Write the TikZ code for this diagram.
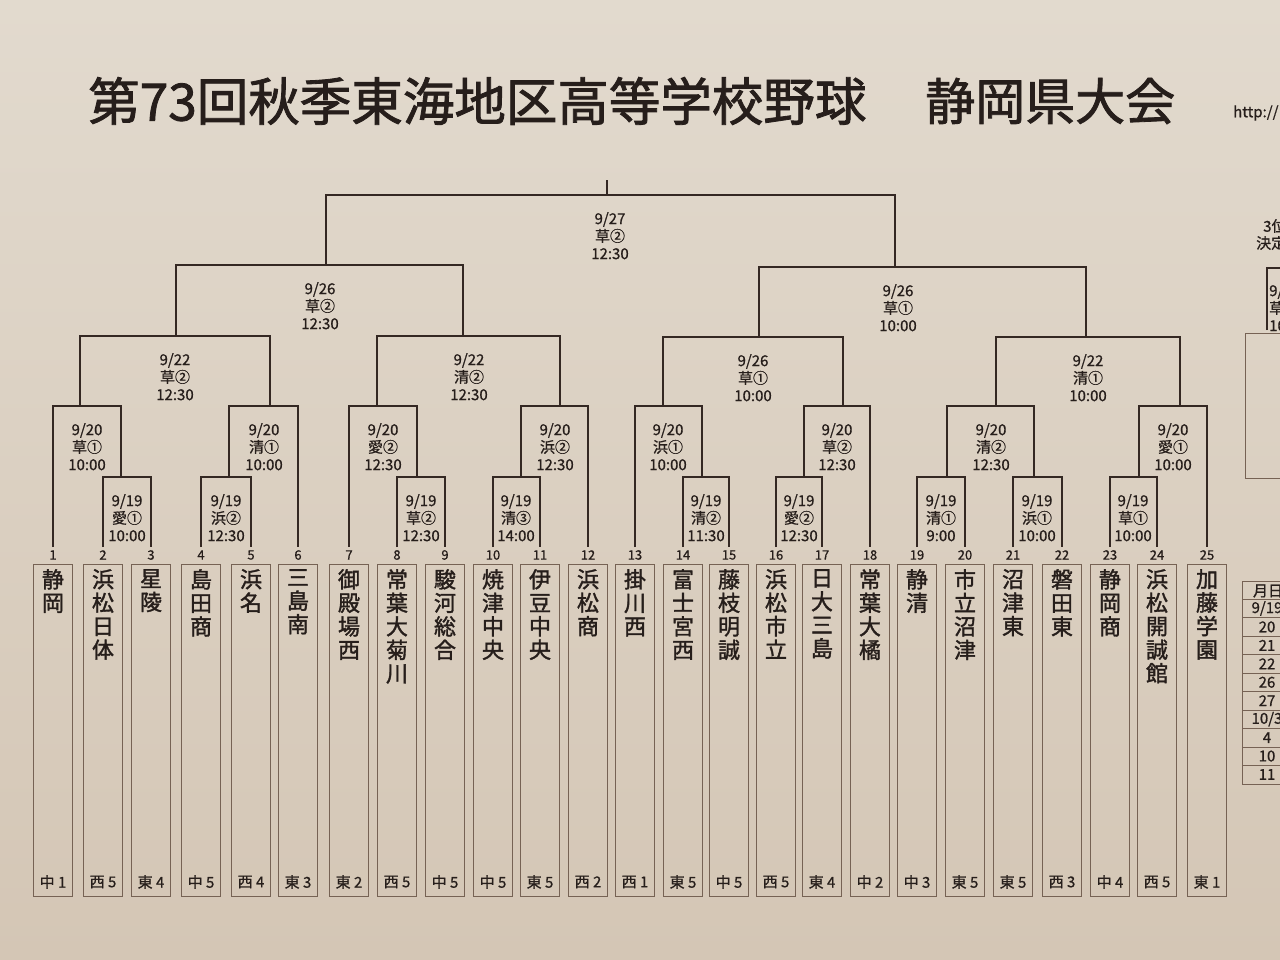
\documentclass[tikz,border=0pt]{standalone}
\usepackage{fontspec}
\setmainfont{Noto Sans CJK JP}
\newfontfamily\heavyfont{Noto Sans CJK JP}[FakeBold=1.6]
\newfontfamily\midfont{Noto Sans CJK JP}[FakeBold=0.8]
\usetikzlibrary{calc}

\definecolor{papertop}{RGB}{226,218,206}
\definecolor{papermid}{RGB}{194,180,164}
\definecolor{paperbot}{RGB}{212,198,181}
\definecolor{ink}{RGB}{38,30,27}
\definecolor{bracketink}{RGB}{52,40,35}
\definecolor{boxline}{RGB}{118,98,84}

\tikzset{
  bracket/.style={draw=bracketink, line width=2pt},
  teambox/.style={draw=boxline, line width=1pt, minimum width=39pt, minimum height=332pt, inner sep=0pt},
  teamname/.style={font=\heavyfont\fontsize{22}{23.5}\selectfont, align=center, inner sep=0pt, anchor=north, text=ink},
  numlbl/.style={font=\midfont\fontsize{13}{14}\selectfont, inner sep=0pt, text=ink},
  reglbl/.style={font=\midfont\fontsize{15}{16}\selectfont, inner sep=0pt, text=ink},
  matchlbl/.style={font=\midfont\fontsize{15}{17.5}\selectfont, align=center, inner sep=0pt, anchor=north, text=ink},
  titlelbl/.style={font=\heavyfont\fontsize{50}{52}\selectfont, inner sep=0pt, anchor=west, text=ink},
  smalllbl/.style={font=\midfont\fontsize{15}{17}\selectfont, inner sep=0pt, text=ink},
}

\begin{document}
\begin{tikzpicture}[x=1pt, y=-1pt]
  \useasboundingbox (0,0) rectangle (1280,960);
  \clip (0,0) rectangle (1280,960);
  % paper
  \shade[top color=papertop, middle color=papermid, bottom color=paperbot] (0,0) rectangle (1280,960);

  % title
  \node[titlelbl, font=\heavyfont\fontsize{51.5}{53}\selectfont] (title) at (88,101) {第73回秋季東海地区高等学校野球};
  \node[titlelbl] (title2) at (925,101) {静岡県大会};
  \node[smalllbl, anchor=west] (url) at (1233,113) {http://};

  % teams
  \foreach \i/\x/\name/\reg in {
      1/53/{静\\岡}/{中 1},
      2/103/{浜\\松\\日\\体}/{西 5},
      3/151/{星\\陵}/{東 4},
      4/201/{島\\田\\商}/{中 5},
      5/251/{浜\\名}/{西 4},
      6/298/{三\\島\\南}/{東 3},
      7/349/{御\\殿\\場\\西}/{東 2},
      8/397/{常\\葉\\大\\菊\\川}/{西 5},
      9/445/{駿\\河\\総\\合}/{中 5},
      10/493/{焼\\津\\中\\央}/{中 5},
      11/540/{伊\\豆\\中\\央}/{東 5},
      12/588/{浜\\松\\商}/{西 2},
      13/635/{掛\\川\\西}/{西 1},
      14/683/{富\\士\\宮\\西}/{東 5},
      15/729/{藤\\枝\\明\\誠}/{中 5},
      16/776/{浜\\松\\市\\立}/{西 5},
      17/822/{日\\大\\三\\島}/{東 4},
      18/870/{常\\葉\\大\\橘}/{中 2},
      19/917/{静\\清}/{中 3},
      20/965/{市\\立\\沼\\津}/{東 5},
      21/1013/{沼\\津\\東}/{東 5},
      22/1062/{磐\\田\\東}/{西 3},
      23/1110/{静\\岡\\商}/{中 4},
      24/1157/{浜\\松\\開\\誠\\館}/{西 5},
      25/1207/{加\\藤\\学\\園}/{東 1}} {
    \coordinate (t\i) at (\x,547);
    \node[numlbl] (n\i) at (\x,555) {\i};
    \node[teambox] (b\i) at (\x,730) {};
    \node[teamname] (nm\i) at (\x,569) {\name};
    \node[reglbl] (r\i) at (\x,882) {\reg};
  }

  % games: name / left / right / stem x / level y / label x / text
  \foreach \m/\a/\b/\sx/\yy/\lx/\txt in {
      ma/t2/t3/121/477/127/{9/19\\愛①\\10:00},
      mb/t4/t5/229/477/226/{9/19\\浜②\\12:30},
      mc/t8/t9/417/477/421/{9/19\\草②\\12:30},
      md/t10/t11/521/477/516/{9/19\\清③\\14:00},
      me/t14/t15/702/477/706/{9/19\\清②\\11:30},
      mf/t16/t17/804/477/799/{9/19\\愛②\\12:30},
      mg/t19/t20/947/477/941/{9/19\\清①\\9:00},
      mh/t21/t22/1034/477/1037/{9/19\\浜①\\10:00},
      mi/t23/t24/1139/477/1133/{9/19\\草①\\10:00},
      na/t1/ma/80/406/87/{9/20\\草①\\10:00},
      nb/mb/t6/270/406/264/{9/20\\清①\\10:00},
      nc/t7/mc/377/406/383/{9/20\\愛②\\12:30},
      nd/md/t12/560/406/555/{9/20\\浜②\\12:30},
      ne/t13/me/663/406/668/{9/20\\浜①\\10:00},
      nf/mf/t18/843/406/837/{9/20\\草②\\12:30},
      ng/mg/mh/996/406/991/{9/20\\清②\\12:30},
      nh/mi/t25/1180/406/1173/{9/20\\愛①\\10:00},
      pa/na/nb/176/336/175/{9/22\\草②\\12:30},
      pb/nc/nd/463/336/469/{9/22\\清②\\12:30},
      pc/ne/nf/759/337/753/{9/26\\草①\\10:00},
      pd/ng/nh/1086/337/1088/{9/22\\清①\\10:00},
      sa/pa/pb/326/265/320/{9/26\\草②\\12:30},
      sb/pc/pd/895/267/898/{9/26\\草①\\10:00},
      fa/sa/sb/607/195/610/{9/27\\草②\\12:30}} {
    \coordinate (\m) at (\sx,\yy);
    \draw[bracket] (\a) |- (\m) -| (\b);
    \node[matchlbl] (\m-l) at (\lx,\yy+17) {\txt};
  }
  \coordinate (top) at (607,180);
  \draw[bracket] (fa) -- (top);

  % third place game (cut off at the edge)
  \node[smalllbl, anchor=west] (third1) at (1263,226) {3位};
  \node[smalllbl, anchor=west] (third2) at (1256,243) {決定戦};
  \coordinate (tp) at (1267,330);
  \coordinate (tq) at (1300,268);
  \draw[bracket] (tp) |- (tq);
  \node[matchlbl, align=left, anchor=north west] (tp-l) at (1269,284) {9/27\\草①\\10:00};
  \node[teambox, minimum width=60pt, minimum height=145pt, anchor=north west] (tbox) at (1245,333) {};

  % schedule table (cut off at the edge)
  \draw[boxline, line width=1pt] (1242,581) rectangle (1310,784);
  \foreach \r/\d in {1/{9/19}, 2/20, 3/21, 4/22, 5/26, 6/27, 7/{10/3}, 8/4, 9/10, 10/11} {
    \draw[boxline, line width=1pt] (1242,581+18.45*\r) -- (1310,581+18.45*\r);
    \node[smalllbl] (d\r) at (1267,590+18.45*\r) {\d};
  }
  \node[smalllbl] (dh) at (1268,591) {月日};
\end{tikzpicture}
\end{document}
